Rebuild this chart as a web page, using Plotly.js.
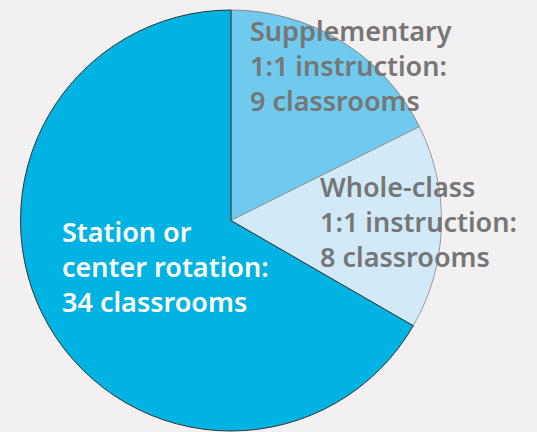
<!DOCTYPE html>
<html><head><meta charset="utf-8">
<script src="https://cdn.plot.ly/plotly-3.0.1.min.js"></script>
<style>html,body{margin:0;padding:0;background:#f2f0f1;}#c{width:537px;height:432px;}</style>
</head><body><div id="c"></div>
<script>
const labels = ["Supplementary<br>1:1 instruction:", "Whole-class<br>1:1 instruction:", "Station or<br>center rotation:"];
const values = [9, 8, 34];
const colors = ["#6fcaed", "#d2eaf8", "#00b3e2"];
const lineColors = ["#888888", "#999999", "#333333"];
const textColors = ["#767676", "#767676", "#ffffff"];
const labelPos = [[248, 65], [318, 222], [60, 266]];

const W = 537, H = 432;
const cx = 231, cy = 220.5, r = 210.5;
const annotations = labels.map((l, i) => ({
  text: l + "<br>" + values[i] + " classrooms",
  x: labelPos[i][0] / W, y: 1 - labelPos[i][1] / H,
  xref: "paper", yref: "paper", xanchor: "left", yanchor: "middle",
  align: "left", showarrow: false,
  font: {family: "Noto Sans, sans-serif", size: 27, color: textColors[i], weight: 600}
}));

Plotly.newPlot("c", [{
  type: "pie", labels: labels, values: values, sort: false,
  direction: "clockwise", rotation: 0,
  marker: {colors: colors, line: {color: lineColors, width: 1}},
  textinfo: "none", hoverinfo: "none",
  domain: {x: [(cx - r) / W, (cx + r) / W], y: [1 - (cy + r) / H, 1 - (cy - r) / H]}
}], {
  width: W, height: H, margin: {l: 0, r: 0, t: 0, b: 0},
  paper_bgcolor: "#f2f0f1", showlegend: false, annotations: annotations
}, {displayModeBar: false});
</script></body></html>
